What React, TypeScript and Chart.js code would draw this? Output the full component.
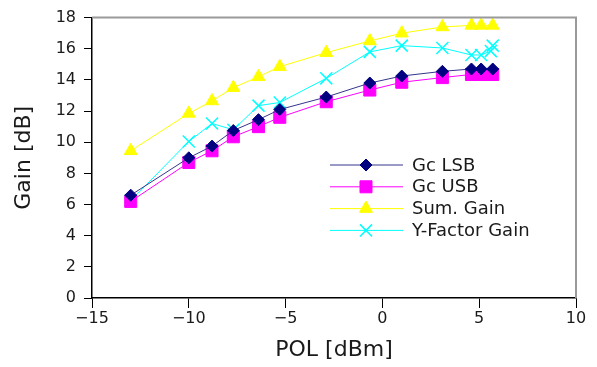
import React, { useEffect, useRef } from "react";
import { Chart, registerables } from "chart.js";

Chart.register(...registerables);

// POL [dBm] sweep points
const polValues = [-13, -10, -8.8, -7.7, -6.4, -5.3, -2.9, -0.65, 1.0, 3.1, 4.6, 5.1, 5.7];
const gcLsb = [6.6, 9.0, 9.75, 10.75, 11.45, 12.1, 12.9, 13.8, 14.25, 14.55, 14.7, 14.7, 14.7];
const gcUsb = [6.2, 8.7, 9.45, 10.35, 11.0, 11.6, 12.6, 13.35, 13.85, 14.15, 14.35, 14.35, 14.35];
const sumGain = [9.45, 11.85, 12.65, 13.5, 14.2, 14.85, 15.75, 16.5, 17.0, 17.4, 17.5, 17.5, 17.5];
const yFactorPol = [-13, -10, -8.8, -7.7, -6.4, -5.3, -2.9, -0.65, 1.0, 3.1, 4.6, 5.1, 5.6, 5.7];
const yFactorGain = [6.25, 10.05, 11.2, 10.8, 12.35, 12.55, 14.1, 15.8, 16.2, 16.05, 15.6, 15.6, 15.85, 16.2];

const xTicks = [-15, -10, -5, 0, 5, 10];
const yTicks = [0, 2, 4, 6, 8, 10, 12, 14, 16, 18];

const seriesNames = ["Gc LSB", "Gc USB", "Sum. Gain", "Y-Factor Gain"];

const toPts = (xs: number[], ys: number[]) => ys.map((y, i) => ({ x: xs[i], y }));

function drawMarker(ctx: CanvasRenderingContext2D, style: string, r: number, x: number, y: number) {
  ctx.beginPath();
  if (style === "rectRot") {
    ctx.moveTo(x - r, y);
    ctx.lineTo(x, y - r);
    ctx.lineTo(x + r, y);
    ctx.lineTo(x, y + r);
    ctx.closePath();
    ctx.fill();
    ctx.stroke();
  } else if (style === "rect") {
    const s = r * Math.SQRT1_2;
    ctx.rect(x - s, y - s, 2 * s, 2 * s);
    ctx.fill();
    ctx.stroke();
  } else if (style === "triangle") {
    const a = Math.PI / 2;
    ctx.moveTo(x + Math.cos(-a) * r, y + Math.sin(-a) * r);
    ctx.lineTo(x + Math.cos(-a + (2 * Math.PI) / 3) * r, y + Math.sin(-a + (2 * Math.PI) / 3) * r);
    ctx.lineTo(x + Math.cos(-a + (4 * Math.PI) / 3) * r, y + Math.sin(-a + (4 * Math.PI) / 3) * r);
    ctx.closePath();
    ctx.fill();
    ctx.stroke();
  } else if (style === "crossRot") {
    const o = r * Math.SQRT1_2;
    ctx.moveTo(x - o, y - o);
    ctx.lineTo(x + o, y + o);
    ctx.moveTo(x - o, y + o);
    ctx.lineTo(x + o, y - o);
    ctx.stroke();
  }
}

const frameAndLegend = {
  id: "frameAndLegend",
  afterDatasetsDraw(chart: any) {
    const { ctx, chartArea } = chart;
    ctx.save();
    // gray frame top/right
    ctx.strokeStyle = "#9a9a9a";
    ctx.lineWidth = 2;
    ctx.beginPath();
    ctx.moveTo(chartArea.left, chartArea.top);
    ctx.lineTo(chartArea.right, chartArea.top);
    ctx.lineTo(chartArea.right, chartArea.bottom);
    ctx.stroke();
    // legend
    const rowY0 = 165;
    const rowH = 21.8;
    const lx0 = 330;
    const lx1 = 403;
    const mx = 366;
    const tx = 412;
    chart.data.datasets.forEach((ds: any, i: number) => {
      const y = rowY0 + i * rowH;
      ctx.strokeStyle = ds.borderColor;
      ctx.lineWidth = 1;
      ctx.beginPath();
      ctx.moveTo(lx0, y);
      ctx.lineTo(lx1, y);
      ctx.stroke();
      ctx.fillStyle = ds.pointBackgroundColor;
      ctx.strokeStyle = ds.pointBorderColor;
      ctx.lineWidth = ds.pointBorderWidth;
      drawMarker(ctx, ds.pointStyle, ds.pointRadius, mx, y);
      ctx.fillStyle = "#1a1a1a";
      ctx.font = "18px 'DejaVu Sans'";
      ctx.textAlign = "left";
      ctx.textBaseline = "middle";
      ctx.fillText(seriesNames[i], tx, y + 1);
    });
    ctx.restore();
  },
};

export default function App() {
  const canvasRef = useRef<HTMLCanvasElement | null>(null);

  useEffect(() => {
    if (!canvasRef.current) return;
    const tickFont = { family: "'DejaVu Sans'", size: 16 };
    const titleFont = { family: "'DejaVu Sans'", size: 22 };
    const fmt = (v: any) => String(v).replace("-", "\u2212");
    const chart = new Chart(canvasRef.current, {
      type: "line",
      data: {
        datasets: [
          {
            label: seriesNames[0],
            data: toPts(polValues, gcLsb),
            borderColor: "#34348c",
            borderWidth: 1,
            pointStyle: "rectRot",
            pointRadius: 6,
            pointBackgroundColor: "#000080",
            pointBorderColor: "#000080",
            pointBorderWidth: 1,
          },
          {
            label: seriesNames[1],
            data: toPts(polValues, gcUsb),
            borderColor: "#ff00ff",
            borderWidth: 1,
            pointStyle: "rect",
            pointRadius: 8.5,
            pointBackgroundColor: "#ff00ff",
            pointBorderColor: "#ff00ff",
            pointBorderWidth: 1,
          },
          {
            label: seriesNames[2],
            data: toPts(polValues, sumGain),
            borderColor: "#ffff00",
            borderWidth: 1,
            pointStyle: "triangle",
            pointRadius: 7.5,
            pointBackgroundColor: "#ffff00",
            pointBorderColor: "#ffff00",
            pointBorderWidth: 1,
          },
          {
            label: seriesNames[3],
            data: toPts(yFactorPol, yFactorGain),
            borderColor: "#00ffff",
            borderWidth: 1,
            pointStyle: "crossRot",
            pointRadius: 8.5,
            pointBackgroundColor: "#00ffff",
            pointBorderColor: "#00ffff",
            pointBorderWidth: 1.5,
          },
        ],
      },
      options: {
        animation: false,
        responsive: false,
        devicePixelRatio: 1,
        layout: { padding: { left: 0, right: 21, top: 15, bottom: 0 } },
        plugins: { legend: { display: false }, tooltip: { enabled: false } },
        elements: { line: { tension: 0 } },
        scales: {
          x: {
            type: "linear",
            min: -15,
            max: 10,
            afterFit: (s: any) => { s.height = 69; },
            afterBuildTicks: (s: any) => { s.ticks = xTicks.map((v) => ({ value: v })); },
            ticks: { callback: fmt, font: tickFont, color: "#1a1a1a", padding: 1, maxRotation: 0 },
            grid: { drawOnChartArea: false, drawTicks: true, tickLength: 10, color: "#000" },
            border: { display: true, color: "#000", width: 1.5 },
            title: { display: true, text: "POL [dBm]", font: titleFont, color: "#1a1a1a", padding: { top: 0, bottom: 4 } },
          },
          y: {
            type: "linear",
            min: 0,
            max: 18,
            afterFit: (s: any) => { s.width = 92; },
            afterBuildTicks: (s: any) => { s.ticks = yTicks.map((v) => ({ value: v })); },
            ticks: { callback: fmt, font: tickFont, color: "#1a1a1a", padding: 8 },
            grid: { drawOnChartArea: false, drawTicks: true, tickLength: 8, color: "#000" },
            border: { display: true, color: "#000", width: 1.5 },
            title: { display: true, text: "Gain [dB]", font: titleFont, color: "#1a1a1a", padding: { top: 11, bottom: 0 } },
          },
        },
      },
      plugins: [frameAndLegend],
    } as any);
    return () => chart.destroy();
  }, []);

  return (
    <div style={{ position: "fixed", left: 0, top: 0, width: 597, height: 367, background: "#fff" }}>
      <canvas ref={canvasRef} width={597} height={367} />
    </div>
  );
}
